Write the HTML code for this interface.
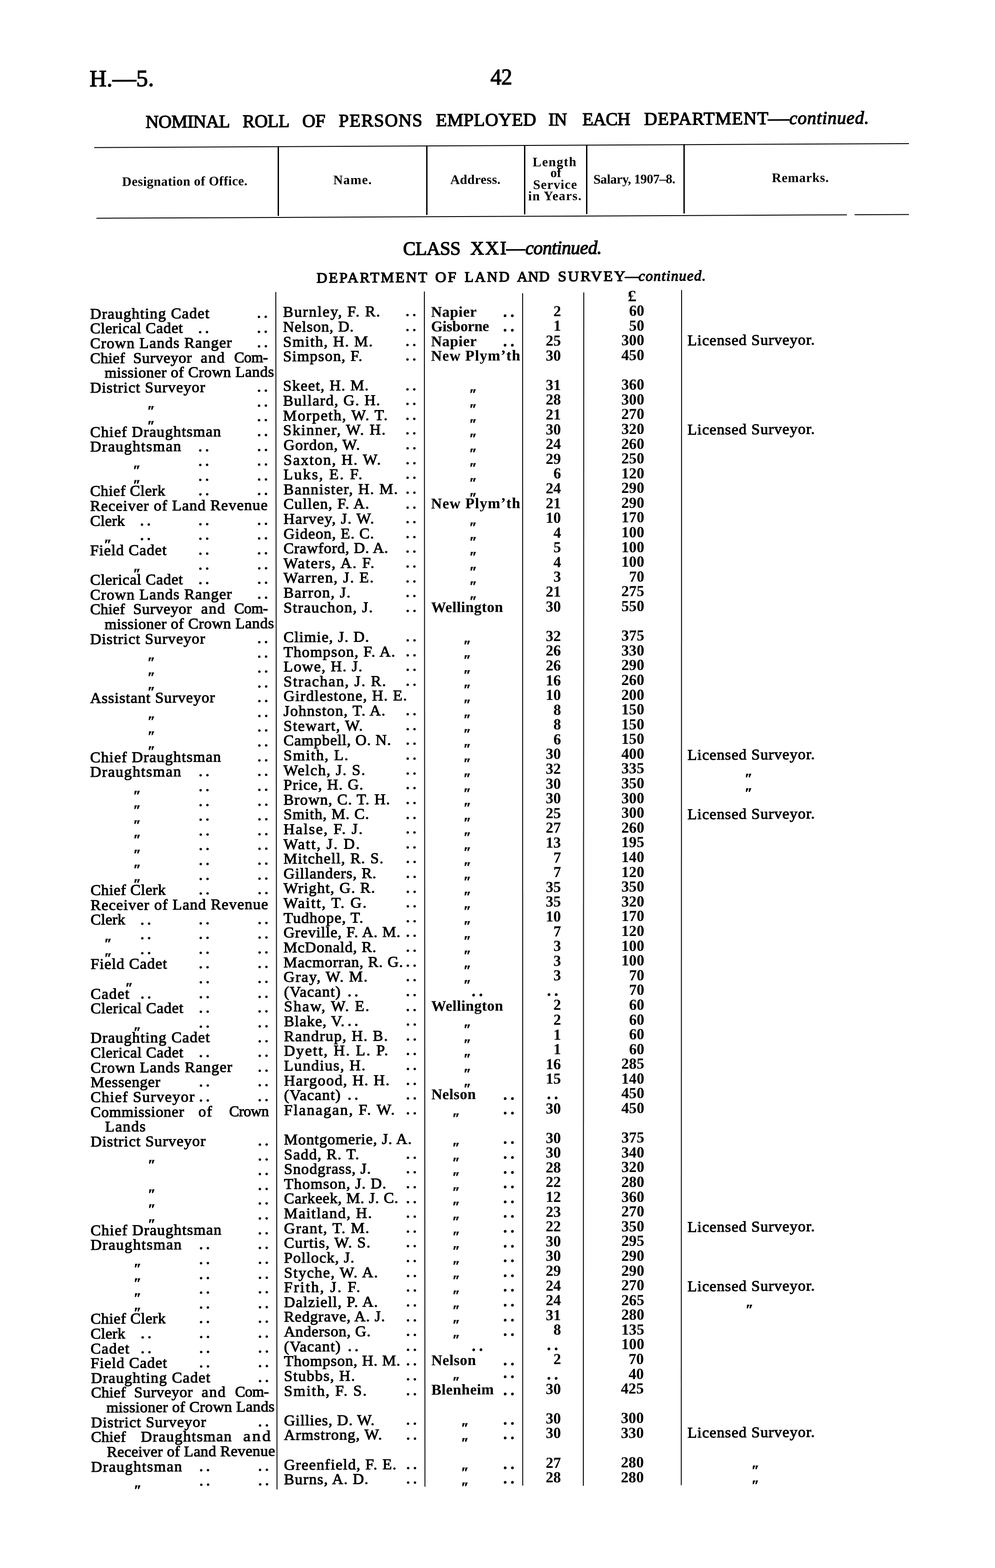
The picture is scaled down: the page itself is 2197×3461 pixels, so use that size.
<!DOCTYPE html>
<html lang="en"><head><meta charset="utf-8"><title>H.—5. Nominal Roll of Persons Employed in each Department</title><style>
html,body{margin:0;padding:0;background:#fff}
#wrap{position:relative;width:2197px;height:3461px;overflow:hidden;background:#fff}
#pg{position:absolute;left:0;top:0;width:2197px;height:3461px;transform-origin:0 0;transform:matrix(1,-0.00580,0,1,0,0);font-family:"Liberation Serif",serif;color:#000}
#pg span{position:absolute;white-space:pre;line-height:1;transform-origin:0 0}
#pg .r{position:absolute;background:#000;transform-origin:0 0}
.t{-webkit-text-stroke:1.1px #000}
.a{font-weight:bold;-webkit-text-stroke:.2px #000}
.n{font-weight:bold;-webkit-text-stroke:.1px #000}
.h{-webkit-text-stroke:1.5px #000}
.b{font-weight:bold}
.i{font-style:italic}
.d{font-weight:bold}
.q{font-weight:bold;font-style:italic;-webkit-text-stroke:1px #000}
</style></head><body><div id="wrap"><div id="pg">
<div class="r" style="left:208.0px;top:326.0px;width:1799.0px;height:2.4px;transform:skewY(0.0516deg)"></div>
<div class="r" style="left:213.0px;top:482.1px;width:1656.5px;height:2.3px;transform:skewY(0.0688deg)"></div>
<div class="r" style="left:1887.0px;top:484.1px;width:120.0px;height:2.3px;transform:skewY(0.0688deg)"></div>
<div class="r" style="left:612.8px;top:327.0px;width:3.0px;height:153.0px"></div>
<div class="r" style="left:940.8px;top:327.0px;width:3.0px;height:153.0px"></div>
<div class="r" style="left:1156.5px;top:327.0px;width:3.0px;height:153.0px"></div>
<div class="r" style="left:1293.6px;top:327.0px;width:3.0px;height:153.0px"></div>
<div class="r" style="left:1508.5px;top:327.0px;width:3.0px;height:153.0px"></div>
<div class="r" style="left:608.2px;top:647.5px;width:2.2px;height:2643.0px;transform:skewX(0.0577deg)"></div>
<div class="r" style="left:935.9px;top:649.4px;width:2.2px;height:2638.0px;transform:skewX(0.0290deg)"></div>
<div class="r" style="left:1153.4px;top:653.7px;width:2.2px;height:2632.0px;transform:skewX(0.0043deg)"></div>
<div class="r" style="left:1287.9px;top:653.0px;width:2.2px;height:2633.5px;transform:skewX(-0.0222deg)"></div>
<div class="r" style="left:1503.9px;top:649.3px;width:2.2px;height:2638.4px;transform:skewX(-0.0155deg)"></div>
<span class="h" style="left:197.7px;top:149.2px;font-size:52px;letter-spacing:0.18px">H.—5.</span>
<span class="h" style="left:1082.6px;top:150.8px;font-size:50px;letter-spacing:-0.60px;transform:scaleX(0.972)">42</span>
<span class="h " style="left:321.6px;top:250.6px;font-size:40px;letter-spacing:-0.41px">NOMINAL</span>
<span class="h " style="left:535.8px;top:250.6px;font-size:40px;letter-spacing:-0.25px">ROLL</span>
<span class="h " style="left:667.6px;top:250.6px;font-size:40px;letter-spacing:-0.14px">OF</span>
<span class="h " style="left:748.0px;top:250.6px;font-size:40px;letter-spacing:1.48px">PERSONS</span>
<span class="h " style="left:962.5px;top:250.6px;font-size:40px;letter-spacing:0.53px">EMPLOYED</span>
<span class="h " style="left:1211.4px;top:250.6px;font-size:40px;letter-spacing:-0.60px;transform:scaleX(0.990)">IN</span>
<span class="h " style="left:1286.0px;top:250.6px;font-size:40px;letter-spacing:-0.60px;transform:scaleX(0.989)">EACH</span>
<span class="h " style="left:1422.3px;top:250.6px;font-size:40px;letter-spacing:1.25px">DEPARTMENT</span>
<span class="h " style="left:1695.7px;top:250.6px;font-size:40px;transform:scaleX(1.157)">—</span>
<span class="h i" style="left:1742.7px;top:250.6px;font-size:40px;letter-spacing:0.92px">continued.</span>
<span class="b" style="left:269.6px;top:387.5px;font-size:29px;letter-spacing:0.40px">Designation of Office.</span>
<span class="b" style="left:735.9px;top:387.4px;font-size:29px;letter-spacing:1.24px">Name.</span>
<span class="b" style="left:994.3px;top:388.0px;font-size:29px;letter-spacing:0.36px">Address.</span>
<span class="b" style="left:1176.1px;top:350.4px;font-size:29px;letter-spacing:1.51px">Length</span>
<span class="b" style="left:1215.2px;top:374.3px;font-size:29px;letter-spacing:0.13px">of</span>
<span class="b" style="left:1177.1px;top:399.8px;font-size:29px;letter-spacing:1.10px">Service</span>
<span class="b" style="left:1166.3px;top:424.9px;font-size:29px;letter-spacing:1.32px">in Years.</span>
<span class="b" style="left:1310.2px;top:389.0px;font-size:29px;letter-spacing:-0.47px">Salary, 1907–8.</span>
<span class="b" style="left:1704.2px;top:388.2px;font-size:29px;letter-spacing:0.80px">Remarks.</span>
<span class="h " style="left:889.6px;top:533.3px;font-size:42px;letter-spacing:-0.60px;transform:scaleX(0.991)">CLASS</span>
<span class="h " style="left:1038.4px;top:533.3px;font-size:42px;letter-spacing:2.57px">XXI</span>
<span class="h " style="left:1117.7px;top:533.3px;font-size:42px;transform:scaleX(0.983)">—</span>
<span class="h i" style="left:1159.7px;top:533.3px;font-size:42px;letter-spacing:-0.60px;transform:scaleX(0.990)">continued.</span>
<span class="h " style="left:699.0px;top:601.4px;font-size:32px;letter-spacing:3.20px;transform:scaleX(1.022)">DEPARTMENT</span>
<span class="h " style="left:960.6px;top:601.4px;font-size:32px;letter-spacing:3.20px;transform:scaleX(1.052)">OF</span>
<span class="h " style="left:1026.0px;top:601.4px;font-size:32px;letter-spacing:3.20px;transform:scaleX(1.005)">LAND</span>
<span class="h " style="left:1141.8px;top:601.4px;font-size:32px;letter-spacing:1.14px">AND</span>
<span class="h " style="left:1231.7px;top:601.4px;font-size:32px;letter-spacing:3.20px;transform:scaleX(1.050)">SURVEY</span>
<span class="h " style="left:1379.7px;top:601.4px;font-size:32px;transform:scaleX(0.916)">—</span>
<span class="h i" style="left:1409.7px;top:601.4px;font-size:32px;letter-spacing:1.61px">continued.</span>
<span class="b" style="left:1386.3px;top:644.2px;font-size:35px;transform:scaleX(1.103)">£</span>
<span class="t" style="left:198.5px;top:677.8px;font-size:33px;letter-spacing:1.33px;transform:scaleX(1.030)">Draughting Cadet</span>
<span class="d" style="left:567.6px;top:676.9px;font-size:34px;letter-spacing:6.50px">..</span>
<span class="t" style="left:625.2px;top:676.3px;font-size:33px;letter-spacing:1.92px;transform:scaleX(1.030)">Burnley, F. R.</span>
<span class="d" style="left:895.5px;top:675.4px;font-size:34px;letter-spacing:6.50px">..</span>
<span class="a" style="left:951.7px;top:677.6px;font-size:33px;letter-spacing:0.71px">Napier</span>
<span class="d" style="left:1110.5px;top:673.8px;font-size:38px;letter-spacing:6.50px">..</span>
<span class="n" style="left:1222.0px;top:676.8px;font-size:34px;transform:scaleX(0.990)">2</span>
<span class="n" style="left:1389.0px;top:677.1px;font-size:34px;transform:scaleX(0.990)">60</span>
<span class="t" style="left:198.5px;top:710.4px;font-size:33px;letter-spacing:0.70px;transform:scaleX(1.030)">Clerical Cadet</span>
<span class="d" style="left:437.8px;top:709.6px;font-size:34px;letter-spacing:6.50px">..</span>
<span class="d" style="left:567.6px;top:709.6px;font-size:34px;letter-spacing:6.50px">..</span>
<span class="t" style="left:625.2px;top:708.9px;font-size:33px;letter-spacing:1.02px;transform:scaleX(1.030)">Nelson, D.</span>
<span class="d" style="left:895.5px;top:708.1px;font-size:34px;letter-spacing:6.50px">..</span>
<span class="a" style="left:951.7px;top:710.2px;font-size:33px;letter-spacing:-0.27px">Gisborne</span>
<span class="d" style="left:1110.5px;top:706.4px;font-size:38px;letter-spacing:6.50px">..</span>
<span class="n" style="left:1222.0px;top:709.4px;font-size:34px;transform:scaleX(0.990)">1</span>
<span class="n" style="left:1389.0px;top:709.7px;font-size:34px;transform:scaleX(0.990)">50</span>
<span class="t" style="left:198.6px;top:743.0px;font-size:33px;letter-spacing:1.25px;transform:scaleX(1.030)">Crown Lands Ranger</span>
<span class="d" style="left:567.7px;top:742.2px;font-size:34px;letter-spacing:6.50px">..</span>
<span class="t" style="left:625.3px;top:741.5px;font-size:33px;letter-spacing:1.69px;transform:scaleX(1.030)">Smith, H. M.</span>
<span class="d" style="left:895.5px;top:740.7px;font-size:34px;letter-spacing:6.50px">..</span>
<span class="a" style="left:951.7px;top:742.8px;font-size:33px;letter-spacing:0.71px">Napier</span>
<span class="d" style="left:1110.5px;top:739.0px;font-size:38px;letter-spacing:6.50px">..</span>
<span class="n" style="left:1205.1px;top:742.0px;font-size:34px;transform:scaleX(0.990)">25</span>
<span class="n" style="left:1372.2px;top:742.3px;font-size:34px;transform:scaleX(0.990)">300</span>
<span class="t" style="left:1518.3px;top:744.3px;font-size:33px;letter-spacing:1.06px;transform:scaleX(1.030)">Licensed Surveyor.</span>
<span class="t" style="left:198.9px;top:775.7px;font-size:33px;letter-spacing:0.31px;transform:scaleX(1.030)">Chief</span>
<span class="t" style="left:293.8px;top:775.7px;font-size:33px;letter-spacing:0.65px;transform:scaleX(1.030)">Surveyor</span>
<span class="t" style="left:443.1px;top:775.7px;font-size:33px;letter-spacing:1.80px;transform:scaleX(1.030)">and</span>
<span class="t" style="left:516.8px;top:775.7px;font-size:33px;letter-spacing:-0.60px;transform:scaleX(1.018)">Com-</span>
<span class="t" style="left:625.3px;top:774.1px;font-size:33px;letter-spacing:1.40px;transform:scaleX(1.030)">Simpson, F.</span>
<span class="d" style="left:895.6px;top:773.3px;font-size:34px;letter-spacing:6.50px">..</span>
<span class="a" style="left:951.7px;top:775.4px;font-size:33px;letter-spacing:1.27px">New Plym’th</span>
<span class="n" style="left:1205.1px;top:774.6px;font-size:34px;transform:scaleX(0.990)">30</span>
<span class="n" style="left:1372.2px;top:774.9px;font-size:34px;transform:scaleX(0.990)">450</span>
<span class="t" style="left:230.5px;top:808.3px;font-size:33px;letter-spacing:0.52px;transform:scaleX(1.030)">missioner of Crown Lands</span>
<span class="t" style="left:198.6px;top:840.9px;font-size:33px;letter-spacing:1.14px;transform:scaleX(1.030)">District Surveyor</span>
<span class="d" style="left:567.8px;top:840.1px;font-size:34px;letter-spacing:6.50px">..</span>
<span class="t" style="left:625.3px;top:839.4px;font-size:33px;letter-spacing:1.42px;transform:scaleX(1.030)">Skeet, H. M.</span>
<span class="d" style="left:895.6px;top:838.5px;font-size:34px;letter-spacing:6.50px">..</span>
<span class="q" style="left:1036.1px;top:860.4px;font-size:31px">″</span>
<span class="n" style="left:1205.1px;top:839.8px;font-size:34px;transform:scaleX(0.990)">31</span>
<span class="n" style="left:1372.2px;top:840.1px;font-size:34px;transform:scaleX(0.990)">360</span>
<span class="q" style="left:325.1px;top:893.3px;font-size:31px">″</span>
<span class="d" style="left:567.8px;top:872.7px;font-size:34px;letter-spacing:6.50px">..</span>
<span class="t" style="left:625.4px;top:872.0px;font-size:33px;letter-spacing:1.55px;transform:scaleX(1.030)">Bullard, G. H.</span>
<span class="d" style="left:895.6px;top:871.2px;font-size:34px;letter-spacing:6.50px">..</span>
<span class="q" style="left:1036.1px;top:893.0px;font-size:31px">″</span>
<span class="n" style="left:1205.1px;top:872.4px;font-size:34px;transform:scaleX(0.990)">28</span>
<span class="n" style="left:1372.1px;top:872.7px;font-size:34px;transform:scaleX(0.990)">300</span>
<span class="q" style="left:325.1px;top:925.9px;font-size:31px">″</span>
<span class="d" style="left:567.8px;top:905.3px;font-size:34px;letter-spacing:6.50px">..</span>
<span class="t" style="left:625.4px;top:904.6px;font-size:33px;letter-spacing:1.88px;transform:scaleX(1.030)">Morpeth, W. T.</span>
<span class="d" style="left:895.6px;top:903.8px;font-size:34px;letter-spacing:6.50px">..</span>
<span class="q" style="left:1036.1px;top:925.6px;font-size:31px">″</span>
<span class="n" style="left:1205.1px;top:904.9px;font-size:34px;transform:scaleX(0.990)">21</span>
<span class="n" style="left:1372.1px;top:905.3px;font-size:34px;transform:scaleX(0.990)">270</span>
<span class="t" style="left:198.7px;top:938.8px;font-size:33px;letter-spacing:1.31px;transform:scaleX(1.030)">Chief Draughtsman</span>
<span class="d" style="left:567.9px;top:937.9px;font-size:34px;letter-spacing:6.50px">..</span>
<span class="t" style="left:625.4px;top:937.2px;font-size:33px;letter-spacing:1.98px;transform:scaleX(1.030)">Skinner, W. H.</span>
<span class="d" style="left:895.6px;top:936.4px;font-size:34px;letter-spacing:6.50px">..</span>
<span class="q" style="left:1036.1px;top:958.2px;font-size:31px">″</span>
<span class="n" style="left:1205.1px;top:937.5px;font-size:34px;transform:scaleX(0.990)">30</span>
<span class="n" style="left:1372.1px;top:937.9px;font-size:34px;transform:scaleX(0.990)">320</span>
<span class="t" style="left:1518.3px;top:941.2px;font-size:33px;letter-spacing:1.06px;transform:scaleX(1.030)">Licensed Surveyor.</span>
<span class="t" style="left:198.7px;top:971.4px;font-size:33px;letter-spacing:1.72px;transform:scaleX(1.030)">Draughtsman</span>
<span class="d" style="left:438.1px;top:970.6px;font-size:34px;letter-spacing:6.50px">..</span>
<span class="d" style="left:567.9px;top:970.6px;font-size:34px;letter-spacing:6.50px">..</span>
<span class="t" style="left:625.5px;top:969.9px;font-size:33px;letter-spacing:1.20px;transform:scaleX(1.030)">Gordon, W.</span>
<span class="d" style="left:895.7px;top:969.0px;font-size:34px;letter-spacing:6.50px">..</span>
<span class="q" style="left:1036.1px;top:990.8px;font-size:31px">″</span>
<span class="n" style="left:1205.1px;top:970.1px;font-size:34px;transform:scaleX(0.990)">24</span>
<span class="n" style="left:1372.1px;top:970.5px;font-size:34px;transform:scaleX(0.990)">260</span>
<span class="q" style="left:293.5px;top:1023.8px;font-size:31px">″</span>
<span class="d" style="left:438.1px;top:1003.2px;font-size:34px;letter-spacing:6.50px">..</span>
<span class="d" style="left:567.9px;top:1003.2px;font-size:34px;letter-spacing:6.50px">..</span>
<span class="t" style="left:625.5px;top:1002.5px;font-size:33px;letter-spacing:2.02px;transform:scaleX(1.030)">Saxton, H. W.</span>
<span class="d" style="left:895.7px;top:1001.6px;font-size:34px;letter-spacing:6.50px">..</span>
<span class="q" style="left:1036.1px;top:1023.4px;font-size:31px">″</span>
<span class="n" style="left:1205.1px;top:1002.7px;font-size:34px;transform:scaleX(0.990)">29</span>
<span class="n" style="left:1372.1px;top:1003.0px;font-size:34px;transform:scaleX(0.990)">250</span>
<span class="q" style="left:293.5px;top:1056.4px;font-size:31px">″</span>
<span class="d" style="left:438.1px;top:1035.8px;font-size:34px;letter-spacing:6.50px">..</span>
<span class="d" style="left:568.0px;top:1035.8px;font-size:34px;letter-spacing:6.50px">..</span>
<span class="t" style="left:625.5px;top:1035.1px;font-size:33px;letter-spacing:2.58px;transform:scaleX(1.030)">Luks, E. F.</span>
<span class="d" style="left:895.7px;top:1034.2px;font-size:34px;letter-spacing:6.50px">..</span>
<span class="q" style="left:1036.1px;top:1056.0px;font-size:31px">″</span>
<span class="n" style="left:1221.9px;top:1035.3px;font-size:34px;transform:scaleX(0.990)">6</span>
<span class="n" style="left:1372.1px;top:1035.6px;font-size:34px;transform:scaleX(0.990)">120</span>
<span class="t" style="left:198.8px;top:1069.3px;font-size:33px;letter-spacing:0.61px;transform:scaleX(1.030)">Chief Clerk</span>
<span class="d" style="left:438.2px;top:1068.4px;font-size:34px;letter-spacing:6.50px">..</span>
<span class="d" style="left:568.0px;top:1068.4px;font-size:34px;letter-spacing:6.50px">..</span>
<span class="t" style="left:625.5px;top:1067.7px;font-size:33px;letter-spacing:1.69px;transform:scaleX(1.030)">Bannister, H. M.</span>
<span class="d" style="left:895.7px;top:1066.9px;font-size:34px;letter-spacing:6.50px">..</span>
<span class="q" style="left:1036.1px;top:1088.6px;font-size:31px">″</span>
<span class="n" style="left:1205.1px;top:1067.9px;font-size:34px;transform:scaleX(0.990)">24</span>
<span class="n" style="left:1372.1px;top:1068.2px;font-size:34px;transform:scaleX(0.990)">290</span>
<span class="t" style="left:198.9px;top:1101.9px;font-size:33px;letter-spacing:1.20px;transform:scaleX(1.030)">Receiver of Land Revenue</span>
<span class="t" style="left:625.6px;top:1100.3px;font-size:33px;letter-spacing:1.37px;transform:scaleX(1.030)">Cullen, F. A.</span>
<span class="d" style="left:895.7px;top:1099.5px;font-size:34px;letter-spacing:6.50px">..</span>
<span class="a" style="left:951.8px;top:1101.4px;font-size:33px;letter-spacing:1.27px">New Plym’th</span>
<span class="n" style="left:1205.1px;top:1100.5px;font-size:34px;transform:scaleX(0.990)">21</span>
<span class="n" style="left:1372.1px;top:1100.8px;font-size:34px;transform:scaleX(0.990)">290</span>
<span class="t" style="left:198.9px;top:1134.5px;font-size:33px;letter-spacing:0.26px;transform:scaleX(1.030)">Clerk</span>
<span class="d" style="left:309.3px;top:1133.7px;font-size:34px;letter-spacing:6.50px">..</span>
<span class="d" style="left:438.2px;top:1133.7px;font-size:34px;letter-spacing:6.50px">..</span>
<span class="d" style="left:568.1px;top:1133.7px;font-size:34px;letter-spacing:6.50px">..</span>
<span class="t" style="left:625.6px;top:1132.9px;font-size:33px;letter-spacing:1.46px;transform:scaleX(1.030)">Harvey, J. W.</span>
<span class="d" style="left:895.8px;top:1132.1px;font-size:34px;letter-spacing:6.50px">..</span>
<span class="q" style="left:1036.1px;top:1153.8px;font-size:31px">″</span>
<span class="n" style="left:1205.1px;top:1133.0px;font-size:34px;transform:scaleX(0.990)">10</span>
<span class="n" style="left:1372.1px;top:1133.4px;font-size:34px;transform:scaleX(0.990)">170</span>
<span class="q" style="left:229.4px;top:1186.9px;font-size:31px">″</span>
<span class="d" style="left:309.3px;top:1166.3px;font-size:34px;letter-spacing:6.50px">..</span>
<span class="d" style="left:438.3px;top:1166.3px;font-size:34px;letter-spacing:6.50px">..</span>
<span class="d" style="left:568.1px;top:1166.3px;font-size:34px;letter-spacing:6.50px">..</span>
<span class="t" style="left:625.6px;top:1165.6px;font-size:33px;letter-spacing:1.12px;transform:scaleX(1.030)">Gideon, E. C.</span>
<span class="d" style="left:895.8px;top:1164.7px;font-size:34px;letter-spacing:6.50px">..</span>
<span class="q" style="left:1036.2px;top:1186.4px;font-size:31px">″</span>
<span class="n" style="left:1221.9px;top:1165.6px;font-size:34px;transform:scaleX(0.990)">4</span>
<span class="n" style="left:1372.0px;top:1166.0px;font-size:34px;transform:scaleX(0.990)">100</span>
<span class="t" style="left:198.9px;top:1199.8px;font-size:33px;letter-spacing:1.07px;transform:scaleX(1.030)">Field Cadet</span>
<span class="d" style="left:438.3px;top:1198.9px;font-size:34px;letter-spacing:6.50px">..</span>
<span class="d" style="left:568.1px;top:1198.9px;font-size:34px;letter-spacing:6.50px">..</span>
<span class="t" style="left:625.6px;top:1198.2px;font-size:33px;letter-spacing:0.77px;transform:scaleX(1.030)">Crawford, D. A.</span>
<span class="d" style="left:895.8px;top:1197.3px;font-size:34px;letter-spacing:6.50px">..</span>
<span class="q" style="left:1036.2px;top:1219.0px;font-size:31px">″</span>
<span class="n" style="left:1221.9px;top:1198.2px;font-size:34px;transform:scaleX(0.990)">5</span>
<span class="n" style="left:1372.0px;top:1198.6px;font-size:34px;transform:scaleX(0.990)">100</span>
<span class="q" style="left:293.7px;top:1252.2px;font-size:31px">″</span>
<span class="d" style="left:438.3px;top:1231.5px;font-size:34px;letter-spacing:6.50px">..</span>
<span class="d" style="left:568.2px;top:1231.5px;font-size:34px;letter-spacing:6.50px">..</span>
<span class="t" style="left:625.7px;top:1230.8px;font-size:33px;letter-spacing:2.07px;transform:scaleX(1.030)">Waters, A. F.</span>
<span class="d" style="left:895.8px;top:1230.0px;font-size:34px;letter-spacing:6.50px">..</span>
<span class="q" style="left:1036.2px;top:1251.6px;font-size:31px">″</span>
<span class="n" style="left:1221.9px;top:1230.8px;font-size:34px;transform:scaleX(0.990)">4</span>
<span class="n" style="left:1372.0px;top:1231.2px;font-size:34px;transform:scaleX(0.990)">100</span>
<span class="t" style="left:199.0px;top:1265.0px;font-size:33px;letter-spacing:0.70px;transform:scaleX(1.030)">Clerical Cadet</span>
<span class="d" style="left:438.3px;top:1264.2px;font-size:34px;letter-spacing:6.50px">..</span>
<span class="d" style="left:568.2px;top:1264.2px;font-size:34px;letter-spacing:6.50px">..</span>
<span class="t" style="left:625.7px;top:1263.4px;font-size:33px;letter-spacing:1.89px;transform:scaleX(1.030)">Warren, J. E.</span>
<span class="d" style="left:895.8px;top:1262.6px;font-size:34px;letter-spacing:6.50px">..</span>
<span class="q" style="left:1036.2px;top:1284.2px;font-size:31px">″</span>
<span class="n" style="left:1221.9px;top:1263.4px;font-size:34px;transform:scaleX(0.990)">3</span>
<span class="n" style="left:1388.8px;top:1263.8px;font-size:34px;transform:scaleX(0.990)">70</span>
<span class="t" style="left:199.0px;top:1297.6px;font-size:33px;letter-spacing:1.25px;transform:scaleX(1.030)">Crown Lands Ranger</span>
<span class="d" style="left:568.2px;top:1296.8px;font-size:34px;letter-spacing:6.50px">..</span>
<span class="t" style="left:625.7px;top:1296.0px;font-size:33px;letter-spacing:1.58px;transform:scaleX(1.030)">Barron, J.</span>
<span class="d" style="left:895.8px;top:1295.2px;font-size:34px;letter-spacing:6.50px">..</span>
<span class="q" style="left:1036.2px;top:1316.8px;font-size:31px">″</span>
<span class="n" style="left:1205.0px;top:1296.0px;font-size:34px;transform:scaleX(0.990)">21</span>
<span class="n" style="left:1372.0px;top:1296.4px;font-size:34px;transform:scaleX(0.990)">275</span>
<span class="t" style="left:199.3px;top:1330.3px;font-size:33px;letter-spacing:0.31px;transform:scaleX(1.030)">Chief</span>
<span class="t" style="left:294.3px;top:1330.3px;font-size:33px;letter-spacing:0.65px;transform:scaleX(1.030)">Surveyor</span>
<span class="t" style="left:443.6px;top:1330.3px;font-size:33px;letter-spacing:1.80px;transform:scaleX(1.030)">and</span>
<span class="t" style="left:517.3px;top:1330.3px;font-size:33px;letter-spacing:-0.60px;transform:scaleX(1.018)">Com-</span>
<span class="t" style="left:625.7px;top:1328.7px;font-size:33px;letter-spacing:1.65px;transform:scaleX(1.030)">Strauchon, J.</span>
<span class="d" style="left:895.9px;top:1327.8px;font-size:34px;letter-spacing:6.50px">..</span>
<span class="a" style="left:951.9px;top:1329.6px;font-size:33px;letter-spacing:0.51px">Wellington</span>
<span class="n" style="left:1205.0px;top:1328.6px;font-size:34px;transform:scaleX(0.990)">30</span>
<span class="n" style="left:1372.0px;top:1328.9px;font-size:34px;transform:scaleX(0.990)">550</span>
<span class="t" style="left:231.0px;top:1362.9px;font-size:33px;letter-spacing:0.52px;transform:scaleX(1.030)">missioner of Crown Lands</span>
<span class="t" style="left:199.1px;top:1395.5px;font-size:33px;letter-spacing:1.14px;transform:scaleX(1.030)">District Surveyor</span>
<span class="d" style="left:568.3px;top:1394.7px;font-size:34px;letter-spacing:6.50px">..</span>
<span class="t" style="left:625.8px;top:1393.9px;font-size:33px;letter-spacing:1.30px;transform:scaleX(1.030)">Climie, J. D.</span>
<span class="d" style="left:895.9px;top:1393.1px;font-size:34px;letter-spacing:6.50px">..</span>
<span class="q" style="left:1023.0px;top:1414.6px;font-size:31px">″</span>
<span class="n" style="left:1205.0px;top:1393.7px;font-size:34px;transform:scaleX(0.990)">32</span>
<span class="n" style="left:1372.0px;top:1394.1px;font-size:34px;transform:scaleX(0.990)">375</span>
<span class="q" style="left:325.6px;top:1447.9px;font-size:31px">″</span>
<span class="d" style="left:568.3px;top:1427.3px;font-size:34px;letter-spacing:6.50px">..</span>
<span class="t" style="left:625.8px;top:1426.5px;font-size:33px;letter-spacing:1.37px;transform:scaleX(1.030)">Thompson, F. A.</span>
<span class="d" style="left:895.9px;top:1425.7px;font-size:34px;letter-spacing:6.50px">..</span>
<span class="q" style="left:1023.0px;top:1447.2px;font-size:31px">″</span>
<span class="n" style="left:1205.0px;top:1426.3px;font-size:34px;transform:scaleX(0.990)">26</span>
<span class="n" style="left:1372.0px;top:1426.7px;font-size:34px;transform:scaleX(0.990)">330</span>
<span class="q" style="left:325.6px;top:1480.5px;font-size:31px">″</span>
<span class="d" style="left:568.4px;top:1459.9px;font-size:34px;letter-spacing:6.50px">..</span>
<span class="t" style="left:625.9px;top:1459.1px;font-size:33px;letter-spacing:1.59px;transform:scaleX(1.030)">Lowe, H. J.</span>
<span class="d" style="left:895.9px;top:1458.3px;font-size:34px;letter-spacing:6.50px">..</span>
<span class="q" style="left:1023.1px;top:1479.8px;font-size:31px">″</span>
<span class="n" style="left:1205.0px;top:1458.9px;font-size:34px;transform:scaleX(0.990)">26</span>
<span class="n" style="left:1372.0px;top:1459.3px;font-size:34px;transform:scaleX(0.990)">290</span>
<span class="q" style="left:325.6px;top:1513.2px;font-size:31px">″</span>
<span class="d" style="left:568.4px;top:1492.5px;font-size:34px;letter-spacing:6.50px">..</span>
<span class="t" style="left:625.9px;top:1491.8px;font-size:33px;letter-spacing:2.01px;transform:scaleX(1.030)">Strachan, J. R.</span>
<span class="d" style="left:895.9px;top:1490.9px;font-size:34px;letter-spacing:6.50px">..</span>
<span class="q" style="left:1023.1px;top:1512.4px;font-size:31px">″</span>
<span class="n" style="left:1205.0px;top:1491.5px;font-size:34px;transform:scaleX(0.990)">16</span>
<span class="n" style="left:1371.9px;top:1491.9px;font-size:34px;transform:scaleX(0.990)">260</span>
<span class="t" style="left:199.2px;top:1526.0px;font-size:33px;letter-spacing:1.00px;transform:scaleX(1.030)">Assistant Surveyor</span>
<span class="d" style="left:568.4px;top:1525.2px;font-size:34px;letter-spacing:6.50px">..</span>
<span class="t" style="left:625.9px;top:1524.4px;font-size:33px;letter-spacing:1.49px;transform:scaleX(1.030)">Girdlestone, H. E.</span>
<span class="q" style="left:1023.1px;top:1545.0px;font-size:31px">″</span>
<span class="n" style="left:1205.0px;top:1524.1px;font-size:34px;transform:scaleX(0.990)">10</span>
<span class="n" style="left:1371.9px;top:1524.5px;font-size:34px;transform:scaleX(0.990)">200</span>
<span class="q" style="left:325.7px;top:1578.4px;font-size:31px">″</span>
<span class="d" style="left:568.5px;top:1557.8px;font-size:34px;letter-spacing:6.50px">..</span>
<span class="t" style="left:625.9px;top:1557.0px;font-size:33px;letter-spacing:1.47px;transform:scaleX(1.030)">Johnston, T. A.</span>
<span class="d" style="left:896.0px;top:1556.2px;font-size:34px;letter-spacing:6.50px">..</span>
<span class="q" style="left:1023.1px;top:1577.6px;font-size:31px">″</span>
<span class="n" style="left:1221.8px;top:1556.7px;font-size:34px;transform:scaleX(0.990)">8</span>
<span class="n" style="left:1371.9px;top:1557.1px;font-size:34px;transform:scaleX(0.990)">150</span>
<span class="q" style="left:325.7px;top:1611.0px;font-size:31px">″</span>
<span class="d" style="left:568.5px;top:1590.4px;font-size:34px;letter-spacing:6.50px">..</span>
<span class="t" style="left:626.0px;top:1589.6px;font-size:33px;letter-spacing:1.69px;transform:scaleX(1.030)">Stewart, W.</span>
<span class="d" style="left:896.0px;top:1588.8px;font-size:34px;letter-spacing:6.50px">..</span>
<span class="q" style="left:1023.1px;top:1610.2px;font-size:31px">″</span>
<span class="n" style="left:1221.8px;top:1589.2px;font-size:34px;transform:scaleX(0.990)">8</span>
<span class="n" style="left:1371.9px;top:1589.7px;font-size:34px;transform:scaleX(0.990)">150</span>
<span class="q" style="left:325.7px;top:1643.7px;font-size:31px">″</span>
<span class="d" style="left:568.5px;top:1623.0px;font-size:34px;letter-spacing:6.50px">..</span>
<span class="t" style="left:626.0px;top:1622.2px;font-size:33px;letter-spacing:0.94px;transform:scaleX(1.030)">Campbell, O. N.</span>
<span class="d" style="left:896.0px;top:1621.4px;font-size:34px;letter-spacing:6.50px">..</span>
<span class="q" style="left:1023.1px;top:1642.8px;font-size:31px">″</span>
<span class="n" style="left:1221.8px;top:1621.8px;font-size:34px;transform:scaleX(0.990)">6</span>
<span class="n" style="left:1371.9px;top:1622.3px;font-size:34px;transform:scaleX(0.990)">150</span>
<span class="t" style="left:199.3px;top:1656.5px;font-size:33px;letter-spacing:1.31px;transform:scaleX(1.030)">Chief Draughtsman</span>
<span class="d" style="left:568.6px;top:1655.7px;font-size:34px;letter-spacing:6.50px">..</span>
<span class="t" style="left:626.1px;top:1654.8px;font-size:33px;letter-spacing:1.87px;transform:scaleX(1.030)">Smith, L.</span>
<span class="d" style="left:896.0px;top:1654.0px;font-size:34px;letter-spacing:6.50px">..</span>
<span class="q" style="left:1023.1px;top:1675.4px;font-size:31px">″</span>
<span class="n" style="left:1205.0px;top:1654.4px;font-size:34px;transform:scaleX(0.990)">30</span>
<span class="n" style="left:1371.9px;top:1654.8px;font-size:34px;transform:scaleX(0.990)">400</span>
<span class="t" style="left:1518.2px;top:1659.3px;font-size:33px;letter-spacing:1.06px;transform:scaleX(1.030)">Licensed Surveyor.</span>
<span class="t" style="left:199.3px;top:1689.1px;font-size:33px;letter-spacing:1.72px;transform:scaleX(1.030)">Draughtsman</span>
<span class="d" style="left:438.7px;top:1688.3px;font-size:34px;letter-spacing:6.50px">..</span>
<span class="d" style="left:568.6px;top:1688.3px;font-size:34px;letter-spacing:6.50px">..</span>
<span class="t" style="left:626.1px;top:1687.5px;font-size:33px;letter-spacing:1.74px;transform:scaleX(1.030)">Welch, J. S.</span>
<span class="d" style="left:896.1px;top:1686.6px;font-size:34px;letter-spacing:6.50px">..</span>
<span class="q" style="left:1023.1px;top:1708.0px;font-size:31px">″</span>
<span class="n" style="left:1205.0px;top:1687.0px;font-size:34px;transform:scaleX(0.990)">32</span>
<span class="n" style="left:1371.9px;top:1687.4px;font-size:34px;transform:scaleX(0.990)">335</span>
<span class="q" style="left:1644.2px;top:1711.8px;font-size:31px">″</span>
<span class="q" style="left:294.1px;top:1741.5px;font-size:31px">″</span>
<span class="d" style="left:438.8px;top:1720.9px;font-size:34px;letter-spacing:6.50px">..</span>
<span class="d" style="left:568.6px;top:1720.9px;font-size:34px;letter-spacing:6.50px">..</span>
<span class="t" style="left:626.1px;top:1720.1px;font-size:33px;letter-spacing:1.29px;transform:scaleX(1.030)">Price, H. G.</span>
<span class="d" style="left:896.1px;top:1719.2px;font-size:34px;letter-spacing:6.50px">..</span>
<span class="q" style="left:1023.1px;top:1740.6px;font-size:31px">″</span>
<span class="n" style="left:1205.0px;top:1719.6px;font-size:34px;transform:scaleX(0.990)">30</span>
<span class="n" style="left:1371.9px;top:1720.0px;font-size:34px;transform:scaleX(0.990)">350</span>
<span class="q" style="left:1644.2px;top:1744.4px;font-size:31px">″</span>
<span class="q" style="left:294.1px;top:1774.2px;font-size:31px">″</span>
<span class="d" style="left:438.8px;top:1753.5px;font-size:34px;letter-spacing:6.50px">..</span>
<span class="d" style="left:568.7px;top:1753.5px;font-size:34px;letter-spacing:6.50px">..</span>
<span class="t" style="left:626.1px;top:1752.7px;font-size:33px;letter-spacing:1.26px;transform:scaleX(1.030)">Brown, C. T. H.</span>
<span class="d" style="left:896.1px;top:1751.9px;font-size:34px;letter-spacing:6.50px">..</span>
<span class="q" style="left:1023.2px;top:1773.2px;font-size:31px">″</span>
<span class="n" style="left:1205.0px;top:1752.2px;font-size:34px;transform:scaleX(0.990)">30</span>
<span class="n" style="left:1371.9px;top:1752.6px;font-size:34px;transform:scaleX(0.990)">300</span>
<span class="q" style="left:294.1px;top:1806.8px;font-size:31px">″</span>
<span class="d" style="left:438.8px;top:1786.2px;font-size:34px;letter-spacing:6.50px">..</span>
<span class="d" style="left:568.7px;top:1786.2px;font-size:34px;letter-spacing:6.50px">..</span>
<span class="t" style="left:626.1px;top:1785.3px;font-size:33px;letter-spacing:1.08px;transform:scaleX(1.030)">Smith, M. C.</span>
<span class="d" style="left:896.1px;top:1784.5px;font-size:34px;letter-spacing:6.50px">..</span>
<span class="q" style="left:1023.2px;top:1805.8px;font-size:31px">″</span>
<span class="n" style="left:1205.0px;top:1784.8px;font-size:34px;transform:scaleX(0.990)">25</span>
<span class="n" style="left:1371.8px;top:1785.2px;font-size:34px;transform:scaleX(0.990)">300</span>
<span class="t" style="left:1518.2px;top:1789.7px;font-size:33px;letter-spacing:1.06px;transform:scaleX(1.030)">Licensed Surveyor.</span>
<span class="q" style="left:294.2px;top:1839.4px;font-size:31px">″</span>
<span class="d" style="left:438.9px;top:1818.8px;font-size:34px;letter-spacing:6.50px">..</span>
<span class="d" style="left:568.7px;top:1818.8px;font-size:34px;letter-spacing:6.50px">..</span>
<span class="t" style="left:626.2px;top:1817.9px;font-size:33px;letter-spacing:2.22px;transform:scaleX(1.030)">Halse, F. J.</span>
<span class="d" style="left:896.1px;top:1817.1px;font-size:34px;letter-spacing:6.50px">..</span>
<span class="q" style="left:1023.2px;top:1838.4px;font-size:31px">″</span>
<span class="n" style="left:1205.0px;top:1817.3px;font-size:34px;transform:scaleX(0.990)">27</span>
<span class="n" style="left:1371.8px;top:1817.8px;font-size:34px;transform:scaleX(0.990)">260</span>
<span class="q" style="left:294.2px;top:1872.0px;font-size:31px">″</span>
<span class="d" style="left:438.9px;top:1851.4px;font-size:34px;letter-spacing:6.50px">..</span>
<span class="d" style="left:568.8px;top:1851.4px;font-size:34px;letter-spacing:6.50px">..</span>
<span class="t" style="left:626.2px;top:1850.6px;font-size:33px;letter-spacing:2.39px;transform:scaleX(1.030)">Watt, J. D.</span>
<span class="d" style="left:896.1px;top:1849.7px;font-size:34px;letter-spacing:6.50px">..</span>
<span class="q" style="left:1023.2px;top:1871.0px;font-size:31px">″</span>
<span class="n" style="left:1205.0px;top:1849.9px;font-size:34px;transform:scaleX(0.990)">13</span>
<span class="n" style="left:1371.8px;top:1850.4px;font-size:34px;transform:scaleX(0.990)">195</span>
<span class="q" style="left:294.2px;top:1904.6px;font-size:31px">″</span>
<span class="d" style="left:438.9px;top:1884.0px;font-size:34px;letter-spacing:6.50px">..</span>
<span class="d" style="left:568.8px;top:1884.0px;font-size:34px;letter-spacing:6.50px">..</span>
<span class="t" style="left:626.2px;top:1883.2px;font-size:33px;letter-spacing:1.48px;transform:scaleX(1.030)">Mitchell, R. S.</span>
<span class="d" style="left:896.2px;top:1882.3px;font-size:34px;letter-spacing:6.50px">..</span>
<span class="q" style="left:1023.2px;top:1903.6px;font-size:31px">″</span>
<span class="n" style="left:1221.7px;top:1882.5px;font-size:34px;transform:scaleX(0.990)">7</span>
<span class="n" style="left:1371.8px;top:1883.0px;font-size:34px;transform:scaleX(0.990)">140</span>
<span class="q" style="left:294.3px;top:1937.3px;font-size:31px">″</span>
<span class="d" style="left:438.9px;top:1916.7px;font-size:34px;letter-spacing:6.50px">..</span>
<span class="d" style="left:568.8px;top:1916.7px;font-size:34px;letter-spacing:6.50px">..</span>
<span class="t" style="left:626.2px;top:1915.8px;font-size:33px;letter-spacing:1.12px;transform:scaleX(1.030)">Gillanders, R.</span>
<span class="d" style="left:896.2px;top:1915.0px;font-size:34px;letter-spacing:6.50px">..</span>
<span class="q" style="left:1023.2px;top:1936.2px;font-size:31px">″</span>
<span class="n" style="left:1221.7px;top:1915.1px;font-size:34px;transform:scaleX(0.990)">7</span>
<span class="n" style="left:1371.8px;top:1915.6px;font-size:34px;transform:scaleX(0.990)">120</span>
<span class="t" style="left:199.5px;top:1950.1px;font-size:33px;letter-spacing:0.61px;transform:scaleX(1.030)">Chief Clerk</span>
<span class="d" style="left:439.0px;top:1949.3px;font-size:34px;letter-spacing:6.50px">..</span>
<span class="d" style="left:568.9px;top:1949.3px;font-size:34px;letter-spacing:6.50px">..</span>
<span class="t" style="left:626.3px;top:1948.4px;font-size:33px;letter-spacing:1.40px;transform:scaleX(1.030)">Wright, G. R.</span>
<span class="d" style="left:896.2px;top:1947.6px;font-size:34px;letter-spacing:6.50px">..</span>
<span class="q" style="left:1023.2px;top:1968.8px;font-size:31px">″</span>
<span class="n" style="left:1204.9px;top:1947.7px;font-size:34px;transform:scaleX(0.990)">35</span>
<span class="n" style="left:1371.8px;top:1948.2px;font-size:34px;transform:scaleX(0.990)">350</span>
<span class="t" style="left:199.7px;top:1982.7px;font-size:33px;letter-spacing:1.20px;transform:scaleX(1.030)">Receiver of Land Revenue</span>
<span class="t" style="left:626.3px;top:1981.0px;font-size:33px;letter-spacing:2.27px;transform:scaleX(1.030)">Waitt, T. G.</span>
<span class="d" style="left:896.2px;top:1980.2px;font-size:34px;letter-spacing:6.50px">..</span>
<span class="q" style="left:1023.2px;top:2001.4px;font-size:31px">″</span>
<span class="n" style="left:1204.9px;top:1980.3px;font-size:34px;transform:scaleX(0.990)">35</span>
<span class="n" style="left:1371.8px;top:1980.7px;font-size:34px;transform:scaleX(0.990)">320</span>
<span class="t" style="left:199.6px;top:2015.4px;font-size:33px;letter-spacing:0.26px;transform:scaleX(1.030)">Clerk</span>
<span class="d" style="left:310.0px;top:2014.5px;font-size:34px;letter-spacing:6.50px">..</span>
<span class="d" style="left:439.0px;top:2014.5px;font-size:34px;letter-spacing:6.50px">..</span>
<span class="d" style="left:568.9px;top:2014.5px;font-size:34px;letter-spacing:6.50px">..</span>
<span class="t" style="left:626.3px;top:2013.7px;font-size:33px;letter-spacing:1.29px;transform:scaleX(1.030)">Tudhope, T.</span>
<span class="d" style="left:896.2px;top:2012.8px;font-size:34px;letter-spacing:6.50px">..</span>
<span class="q" style="left:1023.2px;top:2034.0px;font-size:31px">″</span>
<span class="n" style="left:1204.9px;top:2012.9px;font-size:34px;transform:scaleX(0.990)">10</span>
<span class="n" style="left:1371.8px;top:2013.3px;font-size:34px;transform:scaleX(0.990)">170</span>
<span class="q" style="left:230.1px;top:2067.8px;font-size:31px">″</span>
<span class="d" style="left:310.1px;top:2047.1px;font-size:34px;letter-spacing:6.50px">..</span>
<span class="d" style="left:439.1px;top:2047.1px;font-size:34px;letter-spacing:6.50px">..</span>
<span class="d" style="left:569.0px;top:2047.1px;font-size:34px;letter-spacing:6.50px">..</span>
<span class="t" style="left:626.3px;top:2046.3px;font-size:33px;letter-spacing:1.03px;transform:scaleX(1.030)">Greville, F. A. M.</span>
<span class="d" style="left:896.3px;top:2045.4px;font-size:34px;letter-spacing:6.50px">..</span>
<span class="q" style="left:1023.2px;top:2066.6px;font-size:31px">″</span>
<span class="n" style="left:1221.7px;top:2045.5px;font-size:34px;transform:scaleX(0.990)">7</span>
<span class="n" style="left:1371.8px;top:2045.9px;font-size:34px;transform:scaleX(0.990)">120</span>
<span class="q" style="left:230.1px;top:2100.4px;font-size:31px">″</span>
<span class="d" style="left:310.1px;top:2079.8px;font-size:34px;letter-spacing:6.50px">..</span>
<span class="d" style="left:439.1px;top:2079.8px;font-size:34px;letter-spacing:6.50px">..</span>
<span class="d" style="left:569.0px;top:2079.8px;font-size:34px;letter-spacing:6.50px">..</span>
<span class="t" style="left:626.4px;top:2078.9px;font-size:33px;letter-spacing:0.99px;transform:scaleX(1.030)">McDonald, R.</span>
<span class="d" style="left:896.3px;top:2078.1px;font-size:34px;letter-spacing:6.50px">..</span>
<span class="q" style="left:1023.3px;top:2099.2px;font-size:31px">″</span>
<span class="n" style="left:1221.7px;top:2078.0px;font-size:34px;transform:scaleX(0.990)">3</span>
<span class="n" style="left:1371.7px;top:2078.5px;font-size:34px;transform:scaleX(0.990)">100</span>
<span class="t" style="left:199.7px;top:2113.2px;font-size:33px;letter-spacing:1.07px;transform:scaleX(1.030)">Field Cadet</span>
<span class="d" style="left:439.1px;top:2112.4px;font-size:34px;letter-spacing:6.50px">..</span>
<span class="d" style="left:569.0px;top:2112.4px;font-size:34px;letter-spacing:6.50px">..</span>
<span class="t" style="left:626.3px;top:2111.5px;font-size:33px;letter-spacing:1.00px;transform:scaleX(1.030)">Macmorran, R. G.</span>
<span class="d" style="left:896.3px;top:2110.7px;font-size:34px;letter-spacing:6.50px">..</span>
<span class="q" style="left:1023.3px;top:2131.8px;font-size:31px">″</span>
<span class="n" style="left:1221.7px;top:2110.6px;font-size:34px;transform:scaleX(0.990)">3</span>
<span class="n" style="left:1371.7px;top:2111.1px;font-size:34px;transform:scaleX(0.990)">100</span>
<span class="q" style="left:276.5px;top:2165.6px;font-size:31px">″</span>
<span class="d" style="left:439.2px;top:2145.0px;font-size:34px;letter-spacing:6.50px">..</span>
<span class="d" style="left:569.1px;top:2145.0px;font-size:34px;letter-spacing:6.50px">..</span>
<span class="t" style="left:626.4px;top:2144.1px;font-size:33px;letter-spacing:1.81px;transform:scaleX(1.030)">Gray, W. M.</span>
<span class="d" style="left:896.3px;top:2143.3px;font-size:34px;letter-spacing:6.50px">..</span>
<span class="q" style="left:1023.3px;top:2164.4px;font-size:31px">″</span>
<span class="n" style="left:1221.7px;top:2143.2px;font-size:34px;transform:scaleX(0.990)">3</span>
<span class="n" style="left:1388.6px;top:2143.7px;font-size:34px;transform:scaleX(0.990)">70</span>
<span class="t" style="left:199.7px;top:2178.5px;font-size:33px;letter-spacing:1.51px;transform:scaleX(1.030)">Cadet</span>
<span class="d" style="left:310.2px;top:2177.6px;font-size:34px;letter-spacing:6.50px">..</span>
<span class="d" style="left:439.2px;top:2177.6px;font-size:34px;letter-spacing:6.50px">..</span>
<span class="d" style="left:569.1px;top:2177.6px;font-size:34px;letter-spacing:6.50px">..</span>
<span class="t" style="left:626.5px;top:2176.8px;font-size:33px;letter-spacing:1.34px;transform:scaleX(1.030)">(Vacant)</span>
<span class="d" style="left:896.3px;top:2175.9px;font-size:34px;letter-spacing:6.50px">..</span>
<span class="d" style="left:767.4px;top:2175.9px;font-size:34px;letter-spacing:6.50px">..</span>
<span class="d" style="left:1041.0px;top:2173.4px;font-size:38px;letter-spacing:6.50px">..</span>
<span class="d" style="left:1207.4px;top:2172.8px;font-size:38px;letter-spacing:6.50px">..</span>
<span class="n" style="left:1388.6px;top:2176.3px;font-size:34px;transform:scaleX(0.990)">70</span>
<span class="t" style="left:199.8px;top:2211.1px;font-size:33px;letter-spacing:0.70px;transform:scaleX(1.030)">Clerical Cadet</span>
<span class="d" style="left:439.2px;top:2210.3px;font-size:34px;letter-spacing:6.50px">..</span>
<span class="d" style="left:569.1px;top:2210.3px;font-size:34px;letter-spacing:6.50px">..</span>
<span class="t" style="left:626.5px;top:2209.4px;font-size:33px;letter-spacing:2.27px;transform:scaleX(1.030)">Shaw, W. E.</span>
<span class="d" style="left:896.3px;top:2208.5px;font-size:34px;letter-spacing:6.50px">..</span>
<span class="a" style="left:952.2px;top:2209.8px;font-size:33px;letter-spacing:0.51px">Wellington</span>
<span class="n" style="left:1221.7px;top:2208.4px;font-size:34px;transform:scaleX(0.990)">2</span>
<span class="n" style="left:1388.5px;top:2208.9px;font-size:34px;transform:scaleX(0.990)">60</span>
<span class="q" style="left:294.5px;top:2263.5px;font-size:31px">″</span>
<span class="d" style="left:439.2px;top:2242.9px;font-size:34px;letter-spacing:6.50px">..</span>
<span class="d" style="left:569.2px;top:2242.9px;font-size:34px;letter-spacing:6.50px">..</span>
<span class="t" style="left:626.6px;top:2242.0px;font-size:33px;letter-spacing:1.14px;transform:scaleX(1.030)">Blake, V.</span>
<span class="d" style="left:896.4px;top:2241.2px;font-size:34px;letter-spacing:6.50px">..</span>
<span class="d" style="left:767.5px;top:2241.2px;font-size:34px;letter-spacing:6.50px">..</span>
<span class="q" style="left:1023.3px;top:2262.2px;font-size:31px">″</span>
<span class="n" style="left:1221.7px;top:2241.0px;font-size:34px;transform:scaleX(0.990)">2</span>
<span class="n" style="left:1388.5px;top:2241.5px;font-size:34px;transform:scaleX(0.990)">60</span>
<span class="t" style="left:199.9px;top:2276.4px;font-size:33px;letter-spacing:1.33px;transform:scaleX(1.030)">Draughting Cadet</span>
<span class="d" style="left:569.2px;top:2275.5px;font-size:34px;letter-spacing:6.50px">..</span>
<span class="t" style="left:626.5px;top:2274.6px;font-size:33px;letter-spacing:1.67px;transform:scaleX(1.030)">Randrup, H. B.</span>
<span class="d" style="left:896.4px;top:2273.8px;font-size:34px;letter-spacing:6.50px">..</span>
<span class="q" style="left:1023.3px;top:2294.8px;font-size:31px">″</span>
<span class="n" style="left:1221.7px;top:2273.6px;font-size:34px;transform:scaleX(0.990)">1</span>
<span class="n" style="left:1388.5px;top:2274.1px;font-size:34px;transform:scaleX(0.990)">60</span>
<span class="t" style="left:199.9px;top:2309.0px;font-size:33px;letter-spacing:0.70px;transform:scaleX(1.030)">Clerical Cadet</span>
<span class="d" style="left:439.3px;top:2308.1px;font-size:34px;letter-spacing:6.50px">..</span>
<span class="d" style="left:569.2px;top:2308.1px;font-size:34px;letter-spacing:6.50px">..</span>
<span class="t" style="left:626.5px;top:2307.2px;font-size:33px;letter-spacing:2.40px;transform:scaleX(1.030)">Dyett, H. L. P.</span>
<span class="d" style="left:896.4px;top:2306.4px;font-size:34px;letter-spacing:6.50px">..</span>
<span class="q" style="left:1023.3px;top:2327.4px;font-size:31px">″</span>
<span class="n" style="left:1221.7px;top:2306.1px;font-size:34px;transform:scaleX(0.990)">1</span>
<span class="n" style="left:1388.5px;top:2306.6px;font-size:34px;transform:scaleX(0.990)">60</span>
<span class="t" style="left:199.9px;top:2341.6px;font-size:33px;letter-spacing:1.25px;transform:scaleX(1.030)">Crown Lands Ranger</span>
<span class="d" style="left:569.3px;top:2340.8px;font-size:34px;letter-spacing:6.50px">..</span>
<span class="t" style="left:626.6px;top:2339.8px;font-size:33px;letter-spacing:1.77px;transform:scaleX(1.030)">Lundius, H.</span>
<span class="d" style="left:896.4px;top:2339.0px;font-size:34px;letter-spacing:6.50px">..</span>
<span class="q" style="left:1023.3px;top:2360.0px;font-size:31px">″</span>
<span class="n" style="left:1204.9px;top:2338.7px;font-size:34px;transform:scaleX(0.990)">16</span>
<span class="n" style="left:1371.7px;top:2339.2px;font-size:34px;transform:scaleX(0.990)">285</span>
<span class="t" style="left:199.9px;top:2374.2px;font-size:33px;letter-spacing:0.79px;transform:scaleX(1.030)">Messenger</span>
<span class="d" style="left:439.4px;top:2373.4px;font-size:34px;letter-spacing:6.50px">..</span>
<span class="d" style="left:569.3px;top:2373.4px;font-size:34px;letter-spacing:6.50px">..</span>
<span class="t" style="left:626.6px;top:2372.5px;font-size:33px;letter-spacing:1.72px;transform:scaleX(1.030)">Hargood, H. H.</span>
<span class="d" style="left:896.4px;top:2371.6px;font-size:34px;letter-spacing:6.50px">..</span>
<span class="q" style="left:1023.3px;top:2392.6px;font-size:31px">″</span>
<span class="n" style="left:1204.9px;top:2371.3px;font-size:34px;transform:scaleX(0.990)">15</span>
<span class="n" style="left:1371.6px;top:2371.8px;font-size:34px;transform:scaleX(0.990)">140</span>
<span class="t" style="left:200.0px;top:2406.9px;font-size:33px;letter-spacing:1.54px;transform:scaleX(1.030)">Chief Surveyor</span>
<span class="d" style="left:439.4px;top:2406.0px;font-size:34px;letter-spacing:6.50px">..</span>
<span class="d" style="left:569.3px;top:2406.0px;font-size:34px;letter-spacing:6.50px">..</span>
<span class="t" style="left:626.7px;top:2405.1px;font-size:33px;letter-spacing:1.34px;transform:scaleX(1.030)">(Vacant)</span>
<span class="d" style="left:896.4px;top:2404.2px;font-size:34px;letter-spacing:6.50px">..</span>
<span class="d" style="left:767.6px;top:2404.2px;font-size:34px;letter-spacing:6.50px">..</span>
<span class="a" style="left:952.4px;top:2405.4px;font-size:33px;letter-spacing:0.57px">Nelson</span>
<span class="d" style="left:1110.7px;top:2401.6px;font-size:38px;letter-spacing:6.50px">..</span>
<span class="d" style="left:1207.3px;top:2400.9px;font-size:38px;letter-spacing:6.50px">..</span>
<span class="n" style="left:1371.6px;top:2404.4px;font-size:34px;transform:scaleX(0.990)">450</span>
<span class="t" style="left:200.3px;top:2439.5px;font-size:33px;letter-spacing:0.70px;transform:scaleX(1.030)">Commissioner</span>
<span class="t" style="left:438.1px;top:2439.5px;font-size:33px;letter-spacing:1.63px;transform:scaleX(1.030)">of</span>
<span class="t" style="left:506.4px;top:2439.5px;font-size:33px;letter-spacing:-0.60px;transform:scaleX(1.003)">Crown</span>
<span class="t" style="left:626.6px;top:2437.7px;font-size:33px;letter-spacing:2.28px;transform:scaleX(1.030)">Flanagan, F. W.</span>
<span class="d" style="left:896.5px;top:2436.9px;font-size:34px;letter-spacing:6.50px">..</span>
<span class="q" style="left:998.6px;top:2457.8px;font-size:31px">″</span>
<span class="d" style="left:1110.7px;top:2434.2px;font-size:38px;letter-spacing:6.50px">..</span>
<span class="n" style="left:1204.9px;top:2436.5px;font-size:34px;transform:scaleX(0.990)">30</span>
<span class="n" style="left:1371.6px;top:2437.0px;font-size:34px;transform:scaleX(0.990)">450</span>
<span class="t" style="left:231.9px;top:2472.1px;font-size:33px;letter-spacing:1.58px;transform:scaleX(1.030)">Lands</span>
<span class="t" style="left:200.1px;top:2504.7px;font-size:33px;letter-spacing:1.14px;transform:scaleX(1.030)">District Surveyor</span>
<span class="d" style="left:569.4px;top:2503.9px;font-size:34px;letter-spacing:6.50px">..</span>
<span class="t" style="left:626.6px;top:2502.9px;font-size:33px;letter-spacing:1.06px;transform:scaleX(1.030)">Montgomerie, J. A.</span>
<span class="q" style="left:998.6px;top:2523.0px;font-size:31px">″</span>
<span class="d" style="left:1110.7px;top:2499.4px;font-size:38px;letter-spacing:6.50px">..</span>
<span class="n" style="left:1204.9px;top:2501.7px;font-size:34px;transform:scaleX(0.990)">30</span>
<span class="n" style="left:1371.6px;top:2502.2px;font-size:34px;transform:scaleX(0.990)">375</span>
<span class="q" style="left:326.5px;top:2557.1px;font-size:31px">″</span>
<span class="d" style="left:569.5px;top:2536.5px;font-size:34px;letter-spacing:6.50px">..</span>
<span class="t" style="left:626.8px;top:2535.6px;font-size:33px;letter-spacing:1.47px;transform:scaleX(1.030)">Sadd, R. T.</span>
<span class="d" style="left:896.5px;top:2534.7px;font-size:34px;letter-spacing:6.50px">..</span>
<span class="q" style="left:998.6px;top:2555.6px;font-size:31px">″</span>
<span class="d" style="left:1110.7px;top:2532.0px;font-size:38px;letter-spacing:6.50px">..</span>
<span class="n" style="left:1204.9px;top:2534.2px;font-size:34px;transform:scaleX(0.990)">30</span>
<span class="n" style="left:1371.6px;top:2534.8px;font-size:34px;transform:scaleX(0.990)">340</span>
<span class="d" style="left:569.5px;top:2569.1px;font-size:34px;letter-spacing:6.50px">..</span>
<span class="t" style="left:626.8px;top:2568.2px;font-size:33px;letter-spacing:1.08px;transform:scaleX(1.030)">Snodgrass, J.</span>
<span class="d" style="left:896.5px;top:2567.3px;font-size:34px;letter-spacing:6.50px">..</span>
<span class="q" style="left:998.6px;top:2588.2px;font-size:31px">″</span>
<span class="d" style="left:1110.7px;top:2564.6px;font-size:38px;letter-spacing:6.50px">..</span>
<span class="n" style="left:1204.8px;top:2566.8px;font-size:34px;transform:scaleX(0.990)">28</span>
<span class="n" style="left:1371.6px;top:2567.4px;font-size:34px;transform:scaleX(0.990)">320</span>
<span class="q" style="left:326.6px;top:2622.4px;font-size:31px">″</span>
<span class="d" style="left:569.5px;top:2601.8px;font-size:34px;letter-spacing:6.50px">..</span>
<span class="t" style="left:626.8px;top:2600.8px;font-size:33px;letter-spacing:1.28px;transform:scaleX(1.030)">Thomson, J. D.</span>
<span class="d" style="left:896.6px;top:2600.0px;font-size:34px;letter-spacing:6.50px">..</span>
<span class="q" style="left:998.6px;top:2620.8px;font-size:31px">″</span>
<span class="d" style="left:1110.8px;top:2597.2px;font-size:38px;letter-spacing:6.50px">..</span>
<span class="n" style="left:1204.8px;top:2599.4px;font-size:34px;transform:scaleX(0.990)">22</span>
<span class="n" style="left:1371.6px;top:2600.0px;font-size:34px;transform:scaleX(0.990)">280</span>
<span class="q" style="left:326.6px;top:2655.0px;font-size:31px">″</span>
<span class="d" style="left:569.5px;top:2634.4px;font-size:34px;letter-spacing:6.50px">..</span>
<span class="t" style="left:626.7px;top:2633.4px;font-size:33px;letter-spacing:0.81px;transform:scaleX(1.030)">Carkeek, M. J. C.</span>
<span class="d" style="left:896.6px;top:2632.6px;font-size:34px;letter-spacing:6.50px">..</span>
<span class="q" style="left:998.6px;top:2653.4px;font-size:31px">″</span>
<span class="d" style="left:1110.8px;top:2629.8px;font-size:38px;letter-spacing:6.50px">..</span>
<span class="n" style="left:1204.8px;top:2632.0px;font-size:34px;transform:scaleX(0.990)">12</span>
<span class="n" style="left:1371.6px;top:2632.5px;font-size:34px;transform:scaleX(0.990)">360</span>
<span class="q" style="left:326.6px;top:2687.6px;font-size:31px">″</span>
<span class="d" style="left:569.6px;top:2667.0px;font-size:34px;letter-spacing:6.50px">..</span>
<span class="t" style="left:626.9px;top:2666.0px;font-size:33px;letter-spacing:1.88px;transform:scaleX(1.030)">Maitland, H.</span>
<span class="d" style="left:896.6px;top:2665.2px;font-size:34px;letter-spacing:6.50px">..</span>
<span class="q" style="left:998.6px;top:2686.0px;font-size:31px">″</span>
<span class="d" style="left:1110.8px;top:2662.4px;font-size:38px;letter-spacing:6.50px">..</span>
<span class="n" style="left:1204.8px;top:2664.6px;font-size:34px;transform:scaleX(0.990)">23</span>
<span class="n" style="left:1371.6px;top:2665.1px;font-size:34px;transform:scaleX(0.990)">270</span>
<span class="t" style="left:200.2px;top:2700.5px;font-size:33px;letter-spacing:1.31px;transform:scaleX(1.030)">Chief Draughtsman</span>
<span class="d" style="left:569.6px;top:2699.6px;font-size:34px;letter-spacing:6.50px">..</span>
<span class="t" style="left:626.9px;top:2698.7px;font-size:33px;letter-spacing:1.82px;transform:scaleX(1.030)">Grant, T. M.</span>
<span class="d" style="left:896.6px;top:2697.8px;font-size:34px;letter-spacing:6.50px">..</span>
<span class="q" style="left:998.7px;top:2718.6px;font-size:31px">″</span>
<span class="d" style="left:1110.8px;top:2695.0px;font-size:38px;letter-spacing:6.50px">..</span>
<span class="n" style="left:1204.8px;top:2697.2px;font-size:34px;transform:scaleX(0.990)">22</span>
<span class="n" style="left:1371.5px;top:2697.7px;font-size:34px;transform:scaleX(0.990)">350</span>
<span class="t" style="left:1518.2px;top:2701.2px;font-size:33px;letter-spacing:1.06px;transform:scaleX(1.030)">Licensed Surveyor.</span>
<span class="t" style="left:200.2px;top:2733.1px;font-size:33px;letter-spacing:1.72px;transform:scaleX(1.030)">Draughtsman</span>
<span class="d" style="left:439.7px;top:2732.3px;font-size:34px;letter-spacing:6.50px">..</span>
<span class="d" style="left:569.6px;top:2732.3px;font-size:34px;letter-spacing:6.50px">..</span>
<span class="t" style="left:626.9px;top:2731.3px;font-size:33px;letter-spacing:1.44px;transform:scaleX(1.030)">Curtis, W. S.</span>
<span class="d" style="left:896.6px;top:2730.4px;font-size:34px;letter-spacing:6.50px">..</span>
<span class="q" style="left:998.7px;top:2751.2px;font-size:31px">″</span>
<span class="d" style="left:1110.8px;top:2727.6px;font-size:38px;letter-spacing:6.50px">..</span>
<span class="n" style="left:1204.8px;top:2729.8px;font-size:34px;transform:scaleX(0.990)">30</span>
<span class="n" style="left:1371.5px;top:2730.3px;font-size:34px;transform:scaleX(0.990)">295</span>
<span class="q" style="left:295.0px;top:2785.5px;font-size:31px">″</span>
<span class="d" style="left:439.7px;top:2764.9px;font-size:34px;letter-spacing:6.50px">..</span>
<span class="d" style="left:569.7px;top:2764.9px;font-size:34px;letter-spacing:6.50px">..</span>
<span class="t" style="left:627.0px;top:2763.9px;font-size:33px;letter-spacing:1.23px;transform:scaleX(1.030)">Pollock, J.</span>
<span class="d" style="left:896.6px;top:2763.1px;font-size:34px;letter-spacing:6.50px">..</span>
<span class="q" style="left:998.7px;top:2783.8px;font-size:31px">″</span>
<span class="d" style="left:1110.8px;top:2760.2px;font-size:38px;letter-spacing:6.50px">..</span>
<span class="n" style="left:1204.8px;top:2762.3px;font-size:34px;transform:scaleX(0.990)">30</span>
<span class="n" style="left:1371.5px;top:2762.9px;font-size:34px;transform:scaleX(0.990)">290</span>
<span class="q" style="left:295.0px;top:2818.1px;font-size:31px">″</span>
<span class="d" style="left:439.8px;top:2797.5px;font-size:34px;letter-spacing:6.50px">..</span>
<span class="d" style="left:569.7px;top:2797.5px;font-size:34px;letter-spacing:6.50px">..</span>
<span class="t" style="left:626.9px;top:2796.5px;font-size:33px;letter-spacing:1.72px;transform:scaleX(1.030)">Styche, W. A.</span>
<span class="d" style="left:896.7px;top:2795.7px;font-size:34px;letter-spacing:6.50px">..</span>
<span class="q" style="left:998.7px;top:2816.4px;font-size:31px">″</span>
<span class="d" style="left:1110.8px;top:2792.8px;font-size:38px;letter-spacing:6.50px">..</span>
<span class="n" style="left:1204.8px;top:2794.9px;font-size:34px;transform:scaleX(0.990)">29</span>
<span class="n" style="left:1371.5px;top:2795.5px;font-size:34px;transform:scaleX(0.990)">290</span>
<span class="q" style="left:295.0px;top:2850.7px;font-size:31px">″</span>
<span class="d" style="left:439.8px;top:2830.1px;font-size:34px;letter-spacing:6.50px">..</span>
<span class="d" style="left:569.7px;top:2830.1px;font-size:34px;letter-spacing:6.50px">..</span>
<span class="t" style="left:627.0px;top:2829.1px;font-size:33px;letter-spacing:2.67px;transform:scaleX(1.030)">Frith, J. F.</span>
<span class="d" style="left:896.7px;top:2828.3px;font-size:34px;letter-spacing:6.50px">..</span>
<span class="q" style="left:998.7px;top:2849.0px;font-size:31px">″</span>
<span class="d" style="left:1110.8px;top:2825.4px;font-size:38px;letter-spacing:6.50px">..</span>
<span class="n" style="left:1204.8px;top:2827.5px;font-size:34px;transform:scaleX(0.990)">24</span>
<span class="n" style="left:1371.5px;top:2828.1px;font-size:34px;transform:scaleX(0.990)">270</span>
<span class="t" style="left:1518.2px;top:2831.8px;font-size:33px;letter-spacing:1.06px;transform:scaleX(1.030)">Licensed Surveyor.</span>
<span class="q" style="left:295.0px;top:2883.4px;font-size:31px">″</span>
<span class="d" style="left:439.8px;top:2862.7px;font-size:34px;letter-spacing:6.50px">..</span>
<span class="d" style="left:569.8px;top:2862.7px;font-size:34px;letter-spacing:6.50px">..</span>
<span class="t" style="left:627.0px;top:2861.8px;font-size:33px;letter-spacing:1.35px;transform:scaleX(1.030)">Dalziell, P. A.</span>
<span class="d" style="left:896.7px;top:2860.9px;font-size:34px;letter-spacing:6.50px">..</span>
<span class="q" style="left:998.7px;top:2881.6px;font-size:31px">″</span>
<span class="d" style="left:1110.8px;top:2858.0px;font-size:38px;letter-spacing:6.50px">..</span>
<span class="n" style="left:1204.8px;top:2860.1px;font-size:34px;transform:scaleX(0.990)">24</span>
<span class="n" style="left:1371.5px;top:2860.7px;font-size:34px;transform:scaleX(0.990)">265</span>
<span class="q" style="left:1646.2px;top:2883.9px;font-size:31px">″</span>
<span class="t" style="left:200.3px;top:2896.2px;font-size:33px;letter-spacing:0.61px;transform:scaleX(1.030)">Chief Clerk</span>
<span class="d" style="left:439.8px;top:2895.4px;font-size:34px;letter-spacing:6.50px">..</span>
<span class="d" style="left:569.8px;top:2895.4px;font-size:34px;letter-spacing:6.50px">..</span>
<span class="t" style="left:627.0px;top:2894.4px;font-size:33px;letter-spacing:0.99px;transform:scaleX(1.030)">Redgrave, A. J.</span>
<span class="d" style="left:896.7px;top:2893.5px;font-size:34px;letter-spacing:6.50px">..</span>
<span class="q" style="left:998.7px;top:2914.2px;font-size:31px">″</span>
<span class="d" style="left:1110.8px;top:2890.6px;font-size:38px;letter-spacing:6.50px">..</span>
<span class="n" style="left:1204.8px;top:2892.7px;font-size:34px;transform:scaleX(0.990)">31</span>
<span class="n" style="left:1371.5px;top:2893.3px;font-size:34px;transform:scaleX(0.990)">280</span>
<span class="t" style="left:200.3px;top:2928.8px;font-size:33px;letter-spacing:0.26px;transform:scaleX(1.030)">Clerk</span>
<span class="d" style="left:310.8px;top:2928.0px;font-size:34px;letter-spacing:6.50px">..</span>
<span class="d" style="left:439.9px;top:2928.0px;font-size:34px;letter-spacing:6.50px">..</span>
<span class="d" style="left:569.8px;top:2928.0px;font-size:34px;letter-spacing:6.50px">..</span>
<span class="t" style="left:627.1px;top:2927.0px;font-size:33px;letter-spacing:0.79px;transform:scaleX(1.030)">Anderson, G.</span>
<span class="d" style="left:896.7px;top:2926.2px;font-size:34px;letter-spacing:6.50px">..</span>
<span class="q" style="left:998.7px;top:2946.8px;font-size:31px">″</span>
<span class="d" style="left:1110.8px;top:2923.2px;font-size:38px;letter-spacing:6.50px">..</span>
<span class="n" style="left:1221.6px;top:2925.3px;font-size:34px;transform:scaleX(0.990)">8</span>
<span class="n" style="left:1371.5px;top:2925.8px;font-size:34px;transform:scaleX(0.990)">135</span>
<span class="t" style="left:200.3px;top:2961.5px;font-size:33px;letter-spacing:1.51px;transform:scaleX(1.030)">Cadet</span>
<span class="d" style="left:310.8px;top:2960.6px;font-size:34px;letter-spacing:6.50px">..</span>
<span class="d" style="left:439.9px;top:2960.6px;font-size:34px;letter-spacing:6.50px">..</span>
<span class="d" style="left:569.9px;top:2960.6px;font-size:34px;letter-spacing:6.50px">..</span>
<span class="t" style="left:627.2px;top:2959.6px;font-size:33px;letter-spacing:1.34px;transform:scaleX(1.030)">(Vacant)</span>
<span class="d" style="left:896.7px;top:2958.8px;font-size:34px;letter-spacing:6.50px">..</span>
<span class="d" style="left:768.0px;top:2958.8px;font-size:34px;letter-spacing:6.50px">..</span>
<span class="d" style="left:1041.2px;top:2955.8px;font-size:38px;letter-spacing:6.50px">..</span>
<span class="d" style="left:1207.2px;top:2954.9px;font-size:38px;letter-spacing:6.50px">..</span>
<span class="n" style="left:1371.5px;top:2958.4px;font-size:34px;transform:scaleX(0.990)">100</span>
<span class="t" style="left:200.4px;top:2994.1px;font-size:33px;letter-spacing:1.07px;transform:scaleX(1.030)">Field Cadet</span>
<span class="d" style="left:439.9px;top:2993.2px;font-size:34px;letter-spacing:6.50px">..</span>
<span class="d" style="left:569.9px;top:2993.2px;font-size:34px;letter-spacing:6.50px">..</span>
<span class="t" style="left:627.0px;top:2992.2px;font-size:33px;letter-spacing:0.98px;transform:scaleX(1.030)">Thompson, H. M.</span>
<span class="d" style="left:896.8px;top:2991.4px;font-size:34px;letter-spacing:6.50px">..</span>
<span class="a" style="left:952.6px;top:2992.2px;font-size:33px;letter-spacing:0.57px">Nelson</span>
<span class="d" style="left:1110.8px;top:2988.4px;font-size:38px;letter-spacing:6.50px">..</span>
<span class="n" style="left:1221.5px;top:2990.4px;font-size:34px;transform:scaleX(0.990)">2</span>
<span class="n" style="left:1388.3px;top:2991.0px;font-size:34px;transform:scaleX(0.990)">70</span>
<span class="t" style="left:200.5px;top:3026.7px;font-size:33px;letter-spacing:1.33px;transform:scaleX(1.030)">Draughting Cadet</span>
<span class="d" style="left:569.9px;top:3025.9px;font-size:34px;letter-spacing:6.50px">..</span>
<span class="t" style="left:627.2px;top:3024.8px;font-size:33px;letter-spacing:1.52px;transform:scaleX(1.030)">Stubbs, H.</span>
<span class="d" style="left:896.8px;top:3024.0px;font-size:34px;letter-spacing:6.50px">..</span>
<span class="q" style="left:998.8px;top:3039.6px;font-size:31px">″</span>
<span class="d" style="left:1110.8px;top:3016.0px;font-size:38px;letter-spacing:6.50px">..</span>
<span class="d" style="left:1207.2px;top:3020.1px;font-size:38px;letter-spacing:6.50px">..</span>
<span class="n" style="left:1388.3px;top:3023.6px;font-size:34px;transform:scaleX(0.990)">40</span>
<span class="t" style="left:200.7px;top:3059.3px;font-size:33px;letter-spacing:0.31px;transform:scaleX(1.030)">Chief</span>
<span class="t" style="left:295.8px;top:3059.3px;font-size:33px;letter-spacing:0.65px;transform:scaleX(1.030)">Surveyor</span>
<span class="t" style="left:445.2px;top:3059.3px;font-size:33px;letter-spacing:1.80px;transform:scaleX(1.030)">and</span>
<span class="t" style="left:519.0px;top:3059.3px;font-size:33px;letter-spacing:-0.60px;transform:scaleX(1.018)">Com-</span>
<span class="t" style="left:627.2px;top:3057.5px;font-size:33px;letter-spacing:2.10px;transform:scaleX(1.030)">Smith, F. S.</span>
<span class="d" style="left:896.8px;top:3056.6px;font-size:34px;letter-spacing:6.50px">..</span>
<span class="a" style="left:952.5px;top:3057.4px;font-size:33px;letter-spacing:0.57px">Blenheim</span>
<span class="d" style="left:1110.8px;top:3053.6px;font-size:38px;letter-spacing:6.50px">..</span>
<span class="n" style="left:1204.8px;top:3055.6px;font-size:34px;transform:scaleX(0.990)">30</span>
<span class="n" style="left:1371.4px;top:3056.2px;font-size:34px;transform:scaleX(0.990)">425</span>
<span class="t" style="left:235.4px;top:3092.0px;font-size:33px;letter-spacing:0.41px;transform:scaleX(1.030)">missioner of Crown Lands</span>
<span class="t" style="left:200.6px;top:3124.6px;font-size:33px;letter-spacing:1.14px;transform:scaleX(1.030)">District Surveyor</span>
<span class="d" style="left:570.0px;top:3123.7px;font-size:34px;letter-spacing:6.50px">..</span>
<span class="t" style="left:627.2px;top:3122.7px;font-size:33px;letter-spacing:1.04px;transform:scaleX(1.030)">Gillies, D. W.</span>
<span class="d" style="left:896.8px;top:3121.9px;font-size:34px;letter-spacing:6.50px">..</span>
<span class="q" style="left:1018.0px;top:3142.4px;font-size:31px">″</span>
<span class="d" style="left:1110.8px;top:3118.8px;font-size:38px;letter-spacing:6.50px">..</span>
<span class="n" style="left:1204.8px;top:3120.8px;font-size:34px;transform:scaleX(0.990)">30</span>
<span class="n" style="left:1371.4px;top:3121.4px;font-size:34px;transform:scaleX(0.990)">300</span>
<span class="t" style="left:200.8px;top:3157.2px;font-size:33px;letter-spacing:0.31px;transform:scaleX(1.030)">Chief</span>
<span class="t" style="left:310.9px;top:3157.2px;font-size:33px;letter-spacing:1.67px;transform:scaleX(1.030)">Draughtsman</span>
<span class="t" style="left:536.5px;top:3157.2px;font-size:33px;letter-spacing:3.20px;transform:scaleX(1.117)">and</span>
<span class="t" style="left:627.2px;top:3155.3px;font-size:33px;letter-spacing:1.25px;transform:scaleX(1.030)">Armstrong, W.</span>
<span class="d" style="left:896.9px;top:3154.5px;font-size:34px;letter-spacing:6.50px">..</span>
<span class="q" style="left:1018.0px;top:3175.0px;font-size:31px">″</span>
<span class="d" style="left:1110.8px;top:3151.4px;font-size:38px;letter-spacing:6.50px">..</span>
<span class="n" style="left:1204.8px;top:3153.4px;font-size:34px;transform:scaleX(0.990)">30</span>
<span class="n" style="left:1371.4px;top:3154.0px;font-size:34px;transform:scaleX(0.990)">330</span>
<span class="t" style="left:1518.2px;top:3154.6px;font-size:33px;letter-spacing:1.06px;transform:scaleX(1.030)">Licensed Surveyor.</span>
<span class="t" style="left:235.5px;top:3189.8px;font-size:33px;letter-spacing:0.34px;transform:scaleX(1.030)">Receiver of Land Revenue</span>
<span class="t" style="left:200.6px;top:3222.5px;font-size:33px;letter-spacing:1.72px;transform:scaleX(1.030)">Draughtsman</span>
<span class="d" style="left:440.1px;top:3221.6px;font-size:34px;letter-spacing:6.50px">..</span>
<span class="d" style="left:570.1px;top:3221.6px;font-size:34px;letter-spacing:6.50px">..</span>
<span class="t" style="left:627.2px;top:3220.6px;font-size:33px;letter-spacing:1.42px;transform:scaleX(1.030)">Greenfield, F. E.</span>
<span class="d" style="left:896.9px;top:3219.7px;font-size:34px;letter-spacing:6.50px">..</span>
<span class="q" style="left:1018.0px;top:3240.2px;font-size:31px">″</span>
<span class="d" style="left:1110.8px;top:3216.6px;font-size:38px;letter-spacing:6.50px">..</span>
<span class="n" style="left:1204.7px;top:3218.5px;font-size:34px;transform:scaleX(0.990)">27</span>
<span class="n" style="left:1371.4px;top:3219.2px;font-size:34px;transform:scaleX(0.990)">280</span>
<span class="q" style="left:1659.2px;top:3239.3px;font-size:31px">″</span>
<span class="q" style="left:295.4px;top:3274.9px;font-size:31px">″</span>
<span class="d" style="left:440.2px;top:3254.2px;font-size:34px;letter-spacing:6.50px">..</span>
<span class="d" style="left:570.2px;top:3254.2px;font-size:34px;letter-spacing:6.50px">..</span>
<span class="t" style="left:627.4px;top:3253.2px;font-size:33px;letter-spacing:1.36px;transform:scaleX(1.030)">Burns, A. D.</span>
<span class="d" style="left:896.9px;top:3252.3px;font-size:34px;letter-spacing:6.50px">..</span>
<span class="q" style="left:1018.1px;top:3272.8px;font-size:31px">″</span>
<span class="d" style="left:1110.8px;top:3249.2px;font-size:38px;letter-spacing:6.50px">..</span>
<span class="n" style="left:1204.7px;top:3251.1px;font-size:34px;transform:scaleX(0.990)">28</span>
<span class="n" style="left:1371.4px;top:3251.8px;font-size:34px;transform:scaleX(0.990)">280</span>
<span class="q" style="left:1659.2px;top:3271.9px;font-size:31px">″</span>
</div></div></body></html>
